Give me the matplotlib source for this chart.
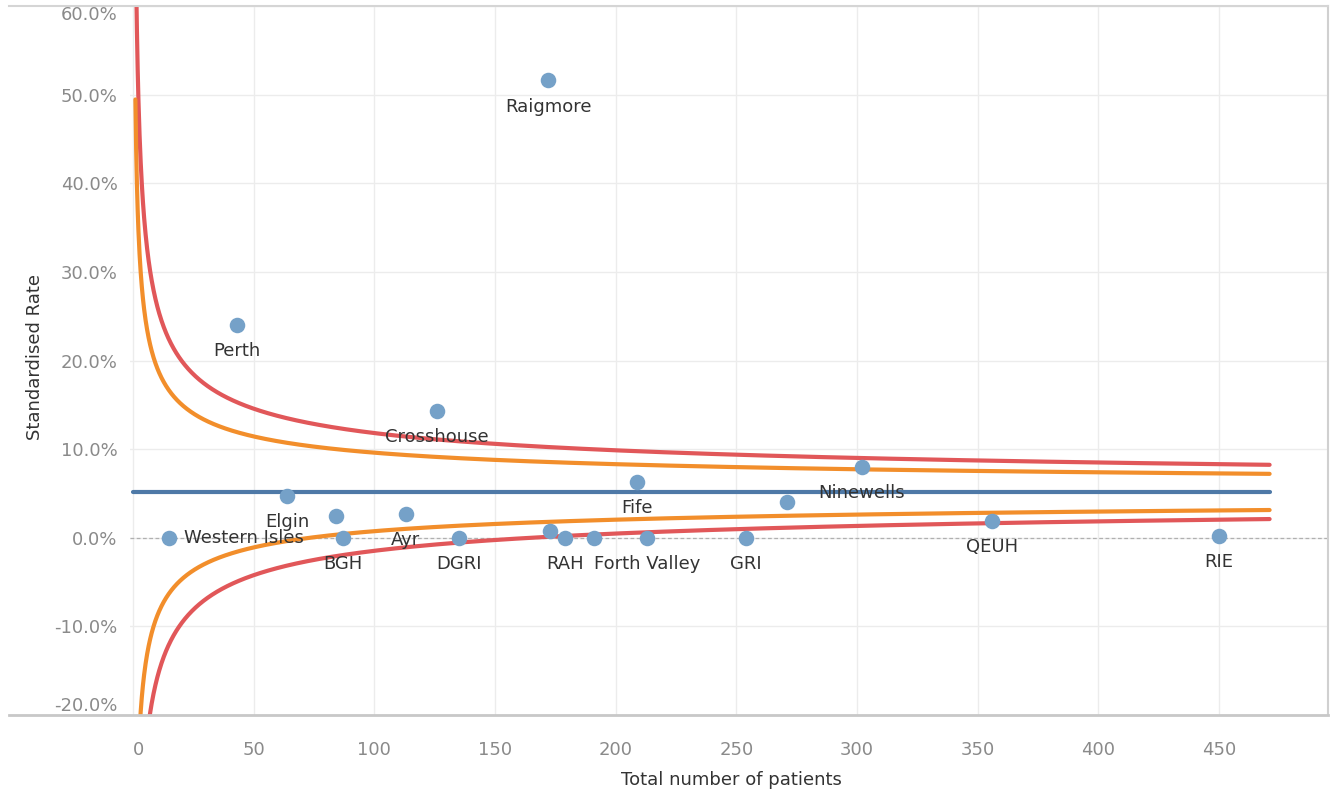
import numpy as np
import matplotlib.pyplot as plt
from matplotlib.lines import Line2D

plt.rcParams['font.family'] = ['DejaVu Sans']

# hospitals (blank = point shown without a label)
hospitals = ["Western Isles", "Perth", "Elgin", "", "BGH", "Ayr", "Crosshouse", "DGRI",
             "Raigmore", "", "RAH", "", "Fife", "Forth Valley", "GRI", "", "Ninewells",
             "QEUH", "RIE"]
patients = [15, 43, 64, 84, 87, 113, 126, 135, 172, 173, 179, 191, 209, 213, 254, 271, 302, 356, 450]
rates = [0.0, 24.0, 4.7, 2.4, 0.0, 2.7, 14.3, 0.0, 51.6, 0.8, 0.0, 0.0, 6.3, 0.0, 0.0, 4.0,
         8.0, 1.9, 0.2]

target_rate = 5.17     # % (overall rate)
n_max = 471            # funnel drawn up to this many patients
z_inner = 2            # orange limits
z_outer = 3            # red limits

x_ticks = [0, 50, 100, 150, 200, 250, 300, 350, 400, 450]
y_ticks = [-20, -10, 0, 10, 20, 30, 40, 50, 60]

W, H = 1330, 793
fig = plt.figure(figsize=(W / 100, H / 100), dpi=100)
ax = fig.add_axes([130 / W, 1 - 715 / H, (1328 - 130) / W, (715 - 6) / H])

n = np.linspace(1, n_max, 3000)
se = np.sqrt(target_rate * (100 - target_rate) / n)

red = "#e15759"
orange = "#f28e2b"
ax.plot(n, target_rate + z_outer * se, color=red, lw=3, solid_capstyle="round", zorder=3)
ax.plot(n, target_rate - z_outer * se, color=red, lw=3, solid_capstyle="round", zorder=3)
ax.plot(n, target_rate + z_inner * se, color=orange, lw=3, solid_capstyle="round", zorder=3)
ax.plot(n, target_rate - z_inner * se, color=orange, lw=3, solid_capstyle="round", zorder=3)
ax.plot([0, n_max], [target_rate, target_rate], color="#4e79a7", lw=3,
        solid_capstyle="round", zorder=3)

ax.axhline(0, color="#b0b0b0", lw=0.9, ls=(0, (3, 2)), zorder=1)

ax.scatter(patients, rates, s=125, color="#75a1c8", zorder=4, linewidths=0)

for name, px, r in zip(hospitals, patients, rates):
    if not name:
        continue
    if name == "Western Isles":
        ax.annotate(name, (px, r), xytext=(11, 0), textcoords="offset points",
                    ha="left", va="center", fontsize=13, color="#333333", zorder=5)
    else:
        ax.annotate(name, (px, r), xytext=(0, -19), textcoords="offset points",
                    ha="center", va="center", fontsize=13, color="#333333", zorder=5)

ax.set_xlim(-1.24, 495.2)
ax.set_ylim(-20, 60)
ax.set_xticks(x_ticks)
ax.set_yticks(y_ticks)
ax.set_yticklabels([f"{v:.1f}%" for v in y_ticks])
ax.grid(True, color="#ececec", lw=1)
ax.set_axisbelow(True)
ax.tick_params(length=0, labelsize=13, labelcolor="#8a8a8a")
ax.tick_params(axis="x", pad=19)
ax.tick_params(axis="y", pad=9)
ylabels = ax.get_yticklabels()
ylabels[0].set_va("bottom")
ylabels[-1].set_va("top")
ax.get_xticklabels()[0].set_ha("left")

for side in ["left", "top", "bottom"]:
    ax.spines[side].set_visible(False)
ax.spines["right"].set_color("#d0d0d0")
ax.spines["right"].set_linewidth(1.5)

# borders spanning the whole pane (including the axis area)
fig.add_artist(Line2D([9 / W, 1328 / W], [1 - 6 / H, 1 - 6 / H], color="#d5d5d5", lw=1.5))
fig.add_artist(Line2D([9 / W, 1328 / W], [1 - 715 / H, 1 - 715 / H], color="#c8c8c8", lw=2))

fig.text(35 / W, 1 - 357 / H, "Standardised Rate", rotation=90, ha="center", va="center",
         fontsize=13, color="#333333")
fig.text(731 / W, 1 - 780 / H, "Total number of patients", ha="center", va="center",
         fontsize=13, color="#333333")

fig.savefig("out.png", dpi=100)
